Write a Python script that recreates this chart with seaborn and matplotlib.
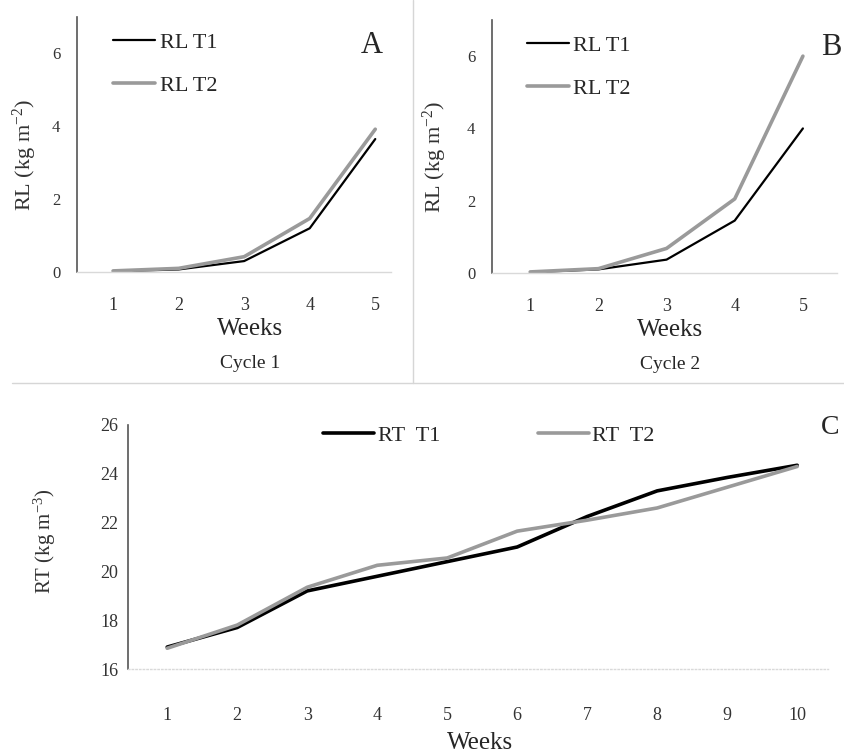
import pandas as pd
import matplotlib.pyplot as plt
import seaborn as sns
from matplotlib.lines import Line2D

# values
weeks_cycle = [1, 2, 3, 4, 5]
rl_t1_c1 = [0.02, 0.07, 0.30, 1.20, 3.65]
rl_t2_c1 = [0.03, 0.10, 0.42, 1.47, 3.92]
rl_t1_c2 = [0.02, 0.10, 0.37, 1.45, 4.00]
rl_t2_c2 = [0.03, 0.12, 0.68, 2.05, 6.00]

weeks_all = [1, 2, 3, 4, 5, 6, 7, 8, 9, 10]
rt_t1 = [16.9, 17.7, 19.2, 19.8, 20.4, 21.0, 22.25, 23.3, 23.85, 24.35]
rt_t2 = [16.85, 17.8, 19.35, 20.25, 20.55, 21.65, 22.1, 22.6, 23.45, 24.3]

sns.set_style("white")
plt.rcParams['font.family'] = ['Liberation Serif', 'DejaVu Serif']
plt.rcParams['mathtext.fontset'] = 'custom'
plt.rcParams['mathtext.rm'] = 'Liberation Serif'
plt.rcParams['mathtext.it'] = 'Liberation Serif:italic'


def long_df(x, a, b, prefix):
    return pd.concat([
        pd.DataFrame({'week': x, 'value': a, 'label': prefix + ' T1'}),
        pd.DataFrame({'week': x, 'value': b, 'label': prefix + ' T2'}),
    ])


def style_axes(ax):
    sns.despine(ax=ax)
    ax.spines['left'].set_color('#555555')
    ax.spines['left'].set_linewidth(1.2)
    ax.spines['bottom'].set_color('#d9d9d9')
    ax.spines['bottom'].set_linewidth(1.0)
    ax.tick_params(axis='y', direction='out', length=4, width=1, color='#555555')
    ax.tick_params(axis='x', length=0)
    ax.grid(False)
    ax.set_xlabel('')
    ax.set_ylabel('')


fig = plt.figure(figsize=(8.44, 7.54), dpi=100)
ax_a = fig.add_axes([77 / 844, 1 - 272 / 754, 314 / 844, 255 / 754])
ax_b = fig.add_axes([492 / 844, 1 - 273 / 754, 345 / 844, 253 / 754])
ax_c = fig.add_axes([128 / 844, 1 - 669 / 754, 700 / 844, 244 / 754])

panels = [
    (ax_a, rl_t1_c1, rl_t2_c1, 'A', 'Cycle 1', (0.45, 5.24), 0.55, 0.115, 0.94),
    (ax_b, rl_t1_c2, rl_t2_c2, 'B', 'Cycle 2', (0.44, 5.5), 0.516, 0.10, 0.982),
]
for ax, t1, t2, letter, cycle, xl, xc, lx, letx in panels:
    df = long_df(weeks_cycle, t1, t2, 'RL')
    sns.lineplot(data=df, x='week', y='value', hue='label', ax=ax,
                 palette=['#000000', '#9a9a9a'], legend=False)
    ax.lines[0].set_linewidth(1.6)
    ax.lines[1].set_linewidth(2.6)
    style_axes(ax)
    ax.set_xlim(*xl)
    ax.set_ylim(0, 7)
    ax.set_yticks([0, 2, 4, 6])
    ax.set_xticks(weeks_cycle)
    ax.tick_params(axis='y', labelsize=12, pad=8, labelcolor='#333333')
    ax.tick_params(axis='x', labelsize=13, pad=18, labelcolor='#333333')
    ax.text(-0.165, 0.46, 'RL (kg m$^{-2}$)', rotation=90, ha='center', va='center',
            fontsize=16, color='#333333', transform=ax.transAxes)
    ax.text(xc, -0.18, 'Weeks', ha='center', va='top', fontsize=18,
            transform=ax.transAxes)
    ax.text(xc, -0.36, cycle, ha='center', va='center', fontsize=14,
            transform=ax.transAxes)
    ax.text(letx, 0.89, letter, ha='center', va='center',
            fontsize=22, transform=ax.transAxes)
    handles = [Line2D([], [], color='#000000', lw=1.6),
               Line2D([], [], color='#9a9a9a', lw=2.6)]
    ax.legend(handles, ['RL T1', 'RL T2'], loc='upper left',
              bbox_to_anchor=(lx, 0.94), frameon=False, fontsize=16,
              handlelength=1.9, handletextpad=0.2, labelspacing=1.0,
              borderpad=0, borderaxespad=0)

# panel C
df_c = long_df(weeks_all, rt_t1, rt_t2, 'RT')
sns.lineplot(data=df_c, x='week', y='value', hue='label', ax=ax_c,
             palette=['#000000', '#9a9a9a'], legend=False)
for ln in ax_c.lines:
    ln.set_linewidth(2.6)
style_axes(ax_c)
ax_c.spines['bottom'].set_linestyle(':')
ax_c.set_xlim(0.44, 10.44)
ax_c.set_ylim(16, 26)
ax_c.set_yticks([16, 18, 20, 22, 24, 26])
ax_c.set_xticks(weeks_all)
ax_c.tick_params(axis='y', labelsize=13, pad=3, labelcolor='#333333')
ax_c.tick_params(axis='x', labelsize=13, pad=27, labelcolor='#333333')
ax_c.text(-0.119, 0.525, 'RT (kg m$^{-3}$)', rotation=90, ha='center', va='center',
          fontsize=15, color='#333333', transform=ax_c.transAxes)
ax_c.text(0.503, -0.258, 'Weeks', ha='center', va='top', fontsize=18,
          transform=ax_c.transAxes)
ax_c.text(1.003, 0.99, 'C', ha='center', va='center', fontsize=20,
          transform=ax_c.transAxes)
handles_c = [Line2D([], [], color='#000000', lw=2.6),
             Line2D([], [], color='#9a9a9a', lw=2.6)]
ax_c.legend(handles_c, ['RT  T1', 'RT  T2'], loc='upper left',
            bbox_to_anchor=(0.279, 1.0), frameon=False, fontsize=16, ncol=2,
            handlelength=2.3, handletextpad=0.15, columnspacing=4.4,
            borderpad=0, borderaxespad=0)

# panel separators
fig.add_artist(Line2D([413 / 844, 413 / 844], [1, 1 - 383 / 754],
                      color='#d6d6d6', lw=1))
fig.add_artist(Line2D([12 / 844, 1], [1 - 383 / 754, 1 - 383 / 754],
                      color='#d6d6d6', lw=1))

fig.savefig('out.png', dpi=100)
